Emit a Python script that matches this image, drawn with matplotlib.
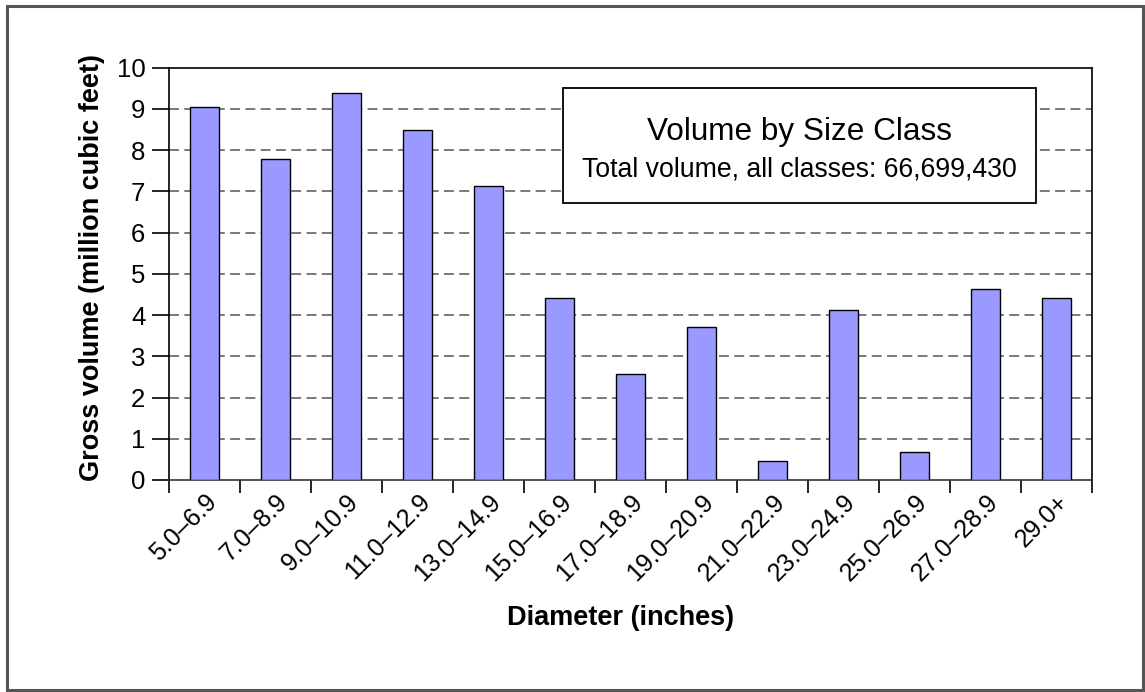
import matplotlib
matplotlib.use("Agg")
from matplotlib import pyplot as plt
from matplotlib.patches import Rectangle

plt.rcParams['font.family'] = ['Liberation Sans', 'DejaVu Sans']

size_classes = ["5.0\u20136.9", "7.0\u20138.9", "9.0\u201310.9", "11.0\u201312.9",
                "13.0\u201314.9", "15.0\u201316.9", "17.0\u201318.9", "19.0\u201320.9",
                "21.0\u201322.9", "23.0\u201324.9", "25.0\u201326.9", "27.0\u201328.9",
                "29.0+"]
volume = [9.04, 7.79, 9.38, 8.48, 7.13, 4.41, 2.58, 3.72, 0.47, 4.13, 0.67, 4.62, 4.41]
y_ticks = list(range(0, 11))

fig = plt.figure(figsize=(11.45, 6.92), dpi=100)
ax = fig.add_axes([0.1476, 0.3064, 0.8061, 0.5958])

# grey frame around the whole chart
fig.patches.append(Rectangle((0.0065, 0.003), 0.9915, 0.9885, transform=fig.transFigure,
                             fill=False, edgecolor='#555555', linewidth=2.2))

x = list(range(len(size_classes)))
ax.bar(x, volume, width=0.42, color='#9999FF', edgecolor='black', linewidth=1.0, zorder=3)

ax.set_xlim(-0.5, len(size_classes) - 0.5)
ax.set_ylim(0, 10)
ax.set_yticks(y_ticks)
ax.set_yticklabels([str(t) for t in y_ticks], fontsize=18.5)

# ticks sit between the classes, labels at the centres
ax.set_xticks([i - 0.5 for i in range(len(size_classes) + 1)])
ax.set_xticklabels([])
ax.set_xticks(x, minor=True)
ax.set_xticklabels(size_classes, minor=True, rotation=45, ha='right', va='top',
                   rotation_mode='anchor', fontsize=18)
ax.tick_params(axis='x', which='major', direction='out', length=9, width=1.2, color='black')
ax.tick_params(axis='x', which='minor', length=0, pad=7)
ax.tick_params(axis='y', direction='out', length=12, width=1.2, pad=5)

for yv in y_ticks[1:-1]:
    ax.axhline(yv, color='#555555', linestyle=(0, (6.5, 3.5)), linewidth=1.1, zorder=1)

for s in ax.spines.values():
    s.set_color('black')
    s.set_linewidth(1.2)
ax.spines['bottom'].set_color('#333333')

ax.set_ylabel("Gross volume (million cubic feet)", fontsize=19.5, fontweight='bold')
ax.yaxis.set_label_coords(-0.0834, 0.515)
ax.set_xlabel("Diameter (inches)", fontsize=19.5, fontweight='bold')
ax.xaxis.set_label_coords(0.489, -0.335)
ax.xaxis.label.set_va('center')
ax.yaxis.label.set_va('center')

# summary box in the upper right
ax.add_patch(Rectangle((0.427, 0.6715), 0.5125, 0.2785, transform=ax.transAxes,
                       facecolor='white', edgecolor='black', linewidth=1.3, zorder=4))
ax.text(0.6832, 0.824, "Volume by Size Class", transform=ax.transAxes, ha='center',
        va='baseline', fontsize=22.7, zorder=5)
ax.text(0.6832, 0.735, "Total volume, all classes: 66,699,430", transform=ax.transAxes,
        ha='center', va='baseline', fontsize=19.2, zorder=5)

plt.savefig("out.png", dpi=100)
plt.close()
